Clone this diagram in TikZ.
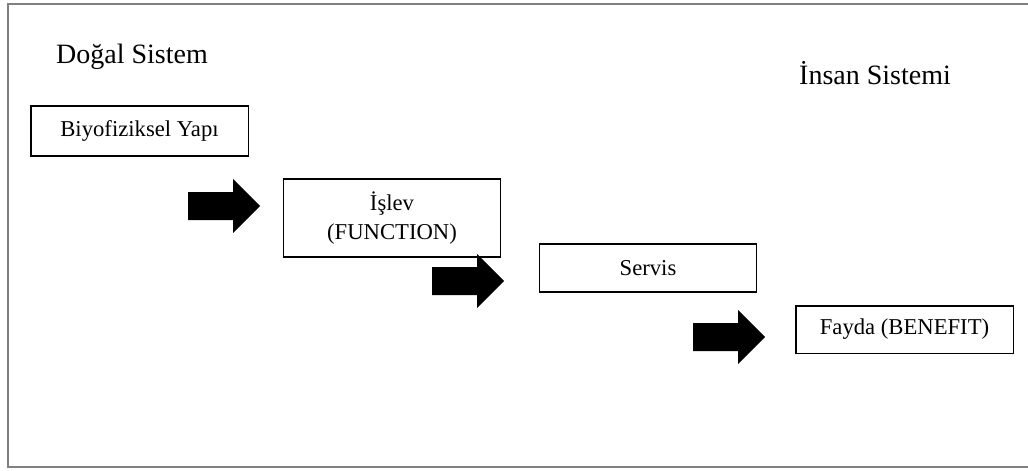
\documentclass[tikz,border=0pt]{standalone}
\usepackage{fontspec}
\setmainfont{Liberation Serif}
\usetikzlibrary{positioning}
\tikzset{
  kutu/.style={draw=black, line width=1pt, minimum width=163pt, inner sep=0pt,
    font=\fontsize{17}{22}\selectfont, align=center},
  baslik/.style={inner sep=0pt, font=\fontsize{21}{25}\selectfont},
}
\begin{document}
\begin{tikzpicture}[x=0.75pt, y=-0.75pt]
		\useasboundingbox (0,0) rectangle (1028,471);
		\draw[gray, line width=1.2pt] (1028,4) -- (8,4) -- (8,467) -- (1028,467);
		\node[baslik] (dogal) at (132,57) {Doğal Sistem};
		\node[baslik] (insan) at (875,73) {İnsan Sistemi};
		\node[kutu, minimum height=37.5pt] (yapi) at (139.5,131) {Biyofiziksel Yapı};
		\node[kutu, minimum height=58.5pt] (islev) at (392,218) {İşlev\\(FUNCTION)};
		\node[kutu, minimum height=36pt] (servis) at (648,268) {Servis};
		\node[kutu, minimum height=35.5pt] (fayda) at (904.5,329.5) {Fayda (BENEFIT)};
		\foreach \ax/\ay in {188/206, 432/281, 693/337}
			\fill[black] (\ax,\ay) ++(0,-14) -- ++(45,0) -- ++(0,-13) -- ++(27,27)
				-- ++(-27,27) -- ++(0,-13) -- ++(-45,0) -- cycle;
\end{tikzpicture}
\end{document}
